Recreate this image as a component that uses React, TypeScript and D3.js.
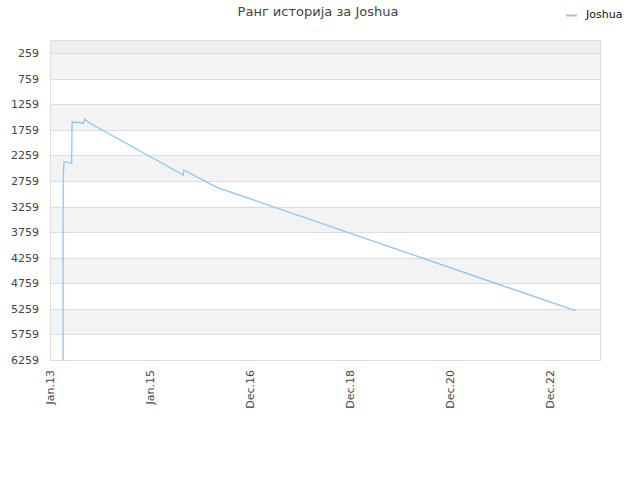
import React, { useEffect, useRef } from 'react';
import * as d3 from 'd3';

const playerName = 'Joshua';
const chartTitle = 'Ранг историја за Joshua';

// rank history: dates and ranks
const historyDates = [
  '2013-04-06', '2013-04-07', '2013-04-13', '2013-06-08', '2013-06-11',
  '2013-09-01', '2013-09-11', '2013-10-20', '2015-09-01', '2015-09-04',
  '2016-05-02', '2023-07-01',
];
const historyRanks = [6259, 2700, 2381, 2412, 1605, 1624, 1552, 1630, 2641, 2543, 2882, 5295];

const yTicks = [259, 759, 1259, 1759, 2259, 2759, 3259, 3759, 4259, 4759, 5259, 5759, 6259];
const xTickDates = ['2013-01-01', '2015-01-01', '2016-12-31', '2018-12-31', '2020-12-30', '2022-12-30'];
const xTickLabels = ['Jan.13', 'Jan.15', 'Dec.16', 'Dec.18', 'Dec.20', 'Dec.22'];

const parse = d3.utcParse('%Y-%m-%d');

function App() {
  const svgRef = useRef<SVGSVGElement>(null);
  const width = 640;
  const height = 480;

  useEffect(() => {
    if (!svgRef.current) return;
    const svg = d3.select(svgRef.current);
    svg.selectAll('*').remove();

    const margin = { top: 40, right: 40, bottom: 120, left: 50 };
    const innerWidth = width - margin.left - margin.right;
    const innerHeight = height - margin.top - margin.bottom;

    const data = historyDates.map((d, i) => ({ date: parse(d) as Date, rank: historyRanks[i] }));

    const x = d3.scaleUtc()
      .domain([parse('2013-01-01') as Date, parse('2023-12-28') as Date])
      .range([0, innerWidth]);
    const y = d3.scaleLinear().domain([1, 6259]).range([0, innerHeight]);

    const g = svg.append('g').attr('transform', `translate(${margin.left},${margin.top})`);

    // background bands
    g.append('rect')
      .attr('x', 0).attr('y', 0)
      .attr('width', innerWidth).attr('height', y(yTicks[0]))
      .attr('fill', '#eeeeee');
    for (let i = 0; i < yTicks.length - 1; i++) {
      if (i % 2 === 0) {
        g.append('rect')
          .attr('x', 0).attr('y', y(yTicks[i]))
          .attr('width', innerWidth).attr('height', y(yTicks[i + 1]) - y(yTicks[i]))
          .attr('fill', '#f3f3f3');
      }
    }

    // grid lines
    g.selectAll('.grid')
      .data(yTicks)
      .enter().append('line')
      .attr('x1', 0).attr('x2', innerWidth)
      .attr('y1', d => Math.round(y(d)) + 0.5).attr('y2', d => Math.round(y(d)) + 0.5)
      .attr('stroke', '#dddddd');

    g.append('rect')
      .attr('x', 0.5).attr('y', 0.5)
      .attr('width', innerWidth).attr('height', innerHeight)
      .attr('fill', 'none').attr('stroke', '#dddddd');

    // y labels
    g.selectAll('.ylab')
      .data(yTicks)
      .enter().append('text')
      .attr('x', -11)
      .attr('y', d => y(d) + 4)
      .attr('text-anchor', 'end')
      .style('font-family', 'DejaVu Sans, sans-serif')
      .style('font-size', '11px')
      .style('fill', '#444')
      .text(d => d);

    // x labels
    g.selectAll('.xlab')
      .data(xTickDates)
      .enter().append('text')
      .attr('transform', d => `translate(${x(parse(d) as Date) + 4},${innerHeight + 10}) rotate(-90)`)
      .attr('text-anchor', 'end')
      .style('font-family', 'DejaVu Sans, sans-serif')
      .style('font-size', '11px')
      .style('fill', '#444')
      .text((d, i) => xTickLabels[i]);

    const line = d3.line<{ date: Date; rank: number }>()
      .x(d => x(d.date))
      .y(d => y(d.rank));

    g.append('path')
      .datum(data)
      .attr('fill', 'none')
      .attr('stroke', '#90c4f5')
      .attr('stroke-width', 1.3)
      .attr('d', line);

    // title
    svg.append('text')
      .attr('x', 318)
      .attr('y', 16)
      .attr('text-anchor', 'middle')
      .style('font-family', 'DejaVu Sans, sans-serif')
      .style('font-size', '13px')
      .style('fill', '#444')
      .text(chartTitle);

    // legend
    svg.append('line')
      .attr('x1', 566).attr('x2', 577)
      .attr('y1', 15.5).attr('y2', 15.5)
      .attr('stroke', '#90c4f5').attr('stroke-width', 2);
    svg.append('text')
      .attr('x', 586)
      .attr('y', 18)
      .style('font-family', 'DejaVu Sans, sans-serif')
      .style('font-size', '11px')
      .style('fill', '#111')
      .text(playerName);
  }, []);

  return (
    <svg
      ref={svgRef}
      width={width}
      height={height}
      style={{ position: 'absolute', left: 0, top: 0, background: '#fff' }}
    />
  );
}

export default App;
